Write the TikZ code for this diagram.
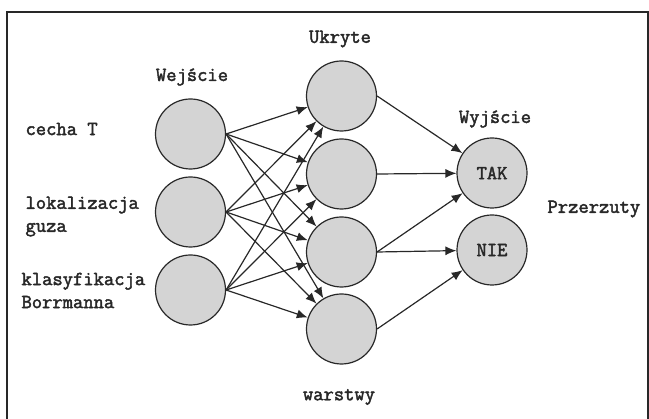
\documentclass[tikz,border=0pt]{standalone}
\usepackage{fontspec}
\setmonofont{Latin Modern Mono}[AutoFakeBold=2.2]
\usetikzlibrary{arrows.meta}
\definecolor{cellgray}{RGB}{212,212,212}
\definecolor{inkgray}{RGB}{40,40,40}

\begin{document}
\begin{tikzpicture}[x=1pt, y=-1pt,
    every node/.style={font=\fontsize{20}{23}\selectfont\ttfamily\bfseries, text=inkgray},
    neuron/.style={circle, draw=inkgray, fill=cellgray, line width=1.2pt, minimum size=70pt, inner sep=0pt},
    link/.style={draw=inkgray, line width=1.2pt, -{Latex[length=11pt,width=9pt]}}]
      \useasboundingbox (0,0) rectangle (649,419);
      \draw[inkgray, line width=1.3pt] (7,425) -- (7,12) -- (648,12) -- (648,425);
      % warstwa wejsciowa
      \node[neuron] (i1) at (190.5,134) {};
      \node[neuron] (i2) at (190.5,212) {};
      \node[neuron] (i3) at (190.5,290) {};
      % warstwa ukryta
      \node[neuron] (h1) at (341.5,96) {};
      \node[neuron] (h2) at (341.5,174) {};
      \node[neuron] (h3) at (341.5,252) {};
      \node[neuron] (h4) at (341.5,329) {};
      % wyjscie
      \node[neuron] (tak) at (492,173) {TAK};
      \node[neuron] (nie) at (492,250) {NIE};
      % opisy
      \node (ukryte) at (340,39) {Ukryte};
      \node (wejscie) at (192,77) {Wejście};
      \node (wyjscie) at (495,119) {Wyjście};
      \node[anchor=west] (cecha) at (22,129) {cecha T};
      \node[anchor=west, align=left] (lok) at (22,216.5) {lokalizacja\\guza};
      \node[anchor=west, align=left] (klas) at (18,290.5) {klasyfikacja\\Borrmanna};
      \node[anchor=west] (przerzuty) at (544,209) {Przerzuty};
      \node (warstwy) at (339,397) {warstwy};
      % polaczenia
      \draw[link] (i1.east) -- (h1);
      \draw[link] (i1.east) -- (h2);
      \draw[link] (i1.east) -- (h3);
      \draw[link] (i1.east) -- (h4);
      \draw[link] (i2.east) -- (h1);
      \draw[link] (i2.east) -- (h2);
      \draw[link] (i2.east) -- (h3);
      \draw[link] (i2.east) -- (h4);
      \draw[link] (i3.east) -- (h1);
      \draw[link] (i3.east) -- (h2);
      \draw[link] (i3.east) -- (h3);
      \draw[link] (i3.east) -- (h4);
      \draw[link] (h1.east) -- (tak);
      \draw[link] (h2.east) -- (tak);
      \draw[link] (h3.east) -- (tak);
      \draw[link] (h3.east) -- (nie);
      \draw[link] (h4.east) -- (nie);
    \end{tikzpicture}
\end{document}
